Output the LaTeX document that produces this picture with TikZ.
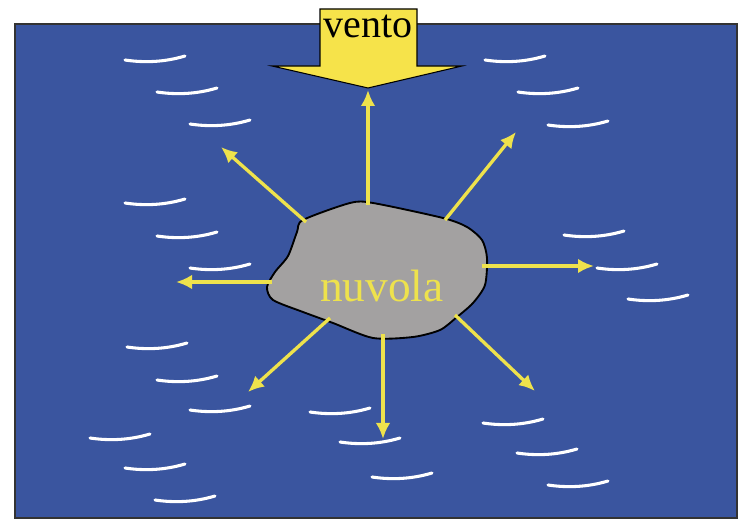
\documentclass[tikz,border=0pt]{standalone}
\usepackage{fontspec}
\setmainfont{Liberation Serif}
\usetikzlibrary{arrows.meta}
\begin{document}
\begin{tikzpicture}[x=0.75pt,y=-0.75pt]
 \definecolor{sea}{HTML}{3A559F}
 \definecolor{cloudgray}{HTML}{A3A1A1}
 \definecolor{windy}{HTML}{F6E34A}
 \definecolor{spread}{HTML}{EEE24C}
 \tikzset{wave/.style={white,line width=2.3pt,line cap=round},
   flow/.style={spread,line width=2.5pt,-{Latex[length=12pt,width=11pt]}}}
 \useasboundingbox (0,0) rectangle (740,520);
 \draw [fill=sea,draw=black!80,line width=0.8pt] (15,24) rectangle (737,518);
 \foreach \x/\y in {125/60,157/92,190/124, 485/60,518/92,548/125,
   125/203,157/236,190/268, 564/235,597/268,628/299,
   127/347,157/380,190/410, 90/438,125/468,155/500,
   310/412,340/442,372/477, 483/423,517/453,548/485}
   \draw [wave] (\x,\y) .. controls (\x+20,\y+3) and (\x+40,\y+2) .. (\x+60,\y-4);
 \draw [fill=windy,draw=black,line width=0.8pt]
   (320,9) -- (417,9) -- (417,66) -- (462,66) -- (368,88) -- (272,66) -- (320,66) -- cycle;
 \node (vento) [anchor=base,inner sep=0pt,font=\fontsize{30}{30}\selectfont] at (368,38) {vento};
 \coordinate (apex) at (368,90);
 \draw [fill=cloudgray,draw=black,line width=1.4pt] plot [smooth cycle,tension=0.45] coordinates {
   (303,220) (350,203) (373,203) (443,218) (467,227) (482,240) (487,258)
   (485,285) (473,303) (457,317) (440,330) (413,337) (373,338) (333,323)
   (303,312) (273,300) (267,287) (275,272) (288,256) (297,232)};
 \node (nuvola) [anchor=base,inner sep=0pt,text=spread,font=\fontsize{34}{34}\selectfont] at (382,302) {nuvola};
 \coordinate (n) at (368,205);
 \coordinate (ne) at (445,220);
 \coordinate (e) at (482,266);
 \coordinate (se) at (455,315);
 \coordinate (s) at (383,334);
 \coordinate (sw) at (330,318);
 \coordinate (w) at (272,282);
 \coordinate (nw) at (306,222);
 \coordinate (tne) at (516,132);
 \coordinate (te) at (594,266);
 \coordinate (tse) at (535,391);
 \coordinate (ts) at (383,439);
 \coordinate (tsw) at (248,392);
 \coordinate (tw) at (176,282);
 \coordinate (tnw) at (221,147);
 \draw [flow] (n) -- (apex);
 \draw [flow] (ne) -- (tne);
 \draw [flow] (e) -- (te);
 \draw [flow] (se) -- (tse);
 \draw [flow] (s) -- (ts);
 \draw [flow] (sw) -- (tsw);
 \draw [flow] (w) -- (tw);
 \draw [flow] (nw) -- (tnw);
\end{tikzpicture}
\end{document}
